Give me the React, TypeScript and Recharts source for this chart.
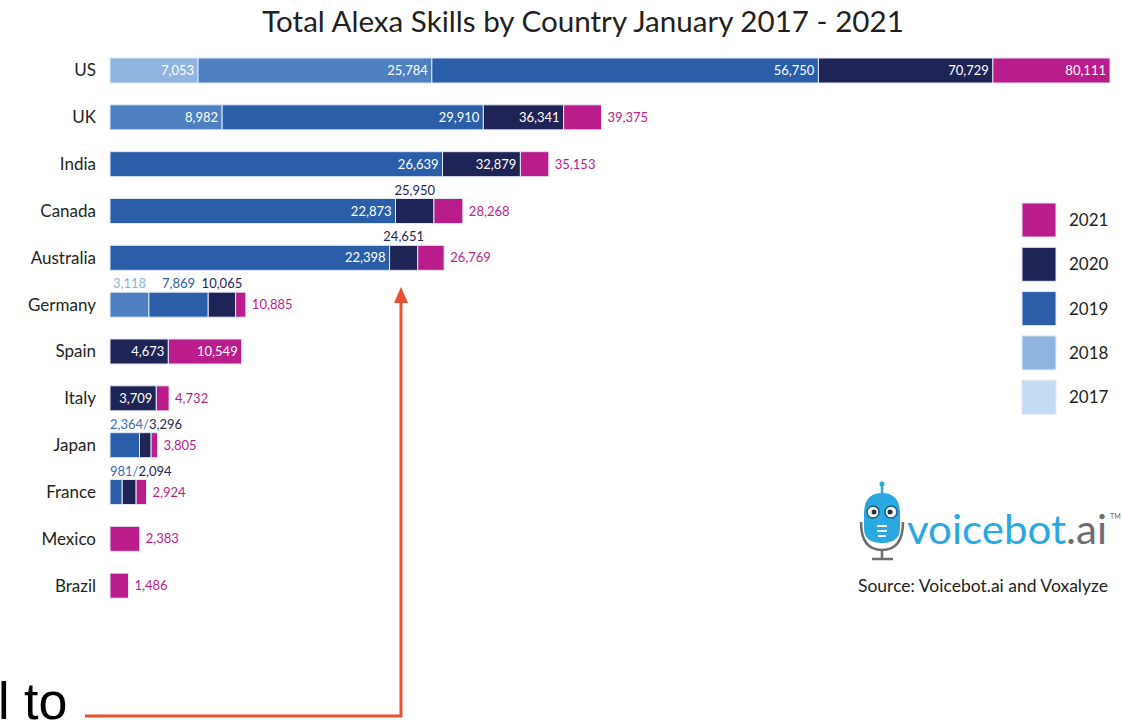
import { BarChart, Bar, XAxis, YAxis, LabelList } from 'recharts';

// cumulative skill counts (January of each year), null = market not live yet
const countries = ['US', 'UK', 'India', 'Canada', 'Australia', 'Germany', 'Spain', 'Italy', 'Japan', 'France', 'Mexico', 'Brazil'];
const skills2017 = [7053, null, null, null, null, null, null, null, null, null, null, null];
const skills2018 = [25784, 8982, null, null, null, 3118, null, null, null, null, null, null];
const skills2019 = [56750, 29910, 26639, 22873, 22398, 7869, null, null, 2364, 981, null, null];
const skills2020 = [70729, 36341, 32879, 25950, 24651, 10065, 4673, 3709, 3296, 2094, null, null];
const skills2021 = [80111, 39375, 35153, 28268, 26769, 10885, 10549, 4732, 3805, 2924, 2383, 1486];

const years = ['2017', '2018', '2019', '2020', '2021'];
const barColors = ['#8fb4e0', '#4d7fc1', '#2a5ea9', '#1f2457', '#bb1c8c'];
const legendColors = ['#c5dbf2', '#8fb4e0', '#2a5ea9', '#1f2457', '#bb1c8c'];

const series = [skills2017, skills2018, skills2019, skills2020, skills2021];

const rows = countries.map((country, i) => {
  const row: any = { country };
  let prev = 0;
  years.forEach((yr, k) => {
    const c = series[k][i];
    row['seg' + yr] = c == null ? 0 : c - prev;
    row['cum' + yr] = c;
    if (c != null) prev = c;
  });
  return row;
});

const fmt = (v: number) => v.toLocaleString('en-US');
const FONT = 'Lato, "Open Sans", sans-serif';
const MAGENTA = '#bb1c8c';
const NAVY = '#1f2457';

function labelMode(country: string, yr: string) {
  if (yr === '2021') return country === 'US' || country === 'Spain' ? 'inside' : 'outside';
  if ((country === 'Canada' || country === 'Australia') && yr === '2020') return 'above';
  if (country === 'Germany') return 'above';
  if (country === 'Japan' || country === 'France') return yr === '2019' ? 'pair' : 'none';
  return 'inside';
}

const aboveColor: Record<string, string> = { '2018': '#8fb4e0', '2019': '#2a5ea9', '2020': NAVY };

// zero-width segments are skipped by the label list, so look the row up by value
const makeLabel = (yr: string) => (props: any) => {
  const { x, y, width, height, value } = props;
  if (value == null) return null;
  const row = rows.find((r) => r['cum' + yr] === Number(value));
  if (!row) return null;
  const cum = row['cum' + yr];
  const mode = labelMode(row.country, yr);
  const cy = y + height / 2;
  const base = { fontFamily: FONT, fontSize: 13 };
  if (mode === 'inside')
    return <text x={x + width - 4} y={cy} dy={4.5} textAnchor="end" fill="#fff" {...base}>{fmt(cum)}</text>;
  if (mode === 'outside')
    return <text x={x + width + 6} y={cy} dy={4.5} textAnchor="start" fill={MAGENTA} {...base}>{fmt(cum)}</text>;
  if (mode === 'above')
    return <text x={x + width / 2} y={y - 4} textAnchor="middle" fill={aboveColor[yr]} {...base}>{fmt(cum)}</text>;
  if (mode === 'pair')
    return (
      <text x={x} y={y - 4} textAnchor="start" {...base}>
        <tspan fill="#3b6cb5">{fmt(cum) + '/'}</tspan>
        <tspan fill={NAVY}>{fmt(row.cum2020)}</tspan>
      </text>
    );
  return null;
};

const CountryTick = (props: any) => {
  const { y, payload } = props;
  return (
    <text x={96} y={y} dy={6} textAnchor="end" fill="#231f20" fontFamily={FONT} fontSize={17}>
      {payload.value}
    </text>
  );
};

export default function App() {
  return (
    <div style={{ position: 'absolute', left: 0, top: 0, width: 1122, height: 721, overflow: 'hidden', background: '#fff' }}>
      <BarChart
        width={1122}
        height={721}
        data={rows}
        layout="vertical"
        margin={{ top: 47, right: 12, bottom: 112, left: 10 }}
      >
        <XAxis type="number" domain={[0, 80111]} hide />
        <YAxis type="category" dataKey="country" width={100} axisLine={false} tickLine={false} tick={<CountryTick />} interval={0} />
        {years.map((yr, k) => (
          <Bar
            key={yr}
            dataKey={'seg' + yr}
            stackId="a"
            fill={barColors[k]}
            stroke="#e1e8f3"
            strokeWidth={1}
            barSize={25}
            isAnimationActive={false}
          >
            <LabelList dataKey={'cum' + yr} content={makeLabel(yr)} />
          </Bar>
        ))}
      </BarChart>

      <svg width={1122} height={721} style={{ position: 'absolute', left: 0, top: 0, pointerEvents: 'none' }}>
        <text x={583} y={32} textAnchor="middle" fill="#231f20" fontFamily={FONT} fontSize={29.6}>
          Total Alexa Skills by Country January 2017 - 2021
        </text>

        {years.slice().reverse().map((yr, i) => {
          const k = years.length - 1 - i;
          const cy = 220 + i * 44.3;
          return (
            <g key={yr}>
              <rect x={1022} y={cy - 17} width={34} height={34} fill={legendColors[k]} stroke="#e1e8f3" />
              <text x={1069} y={cy + 6} fill="#231f20" fontFamily={FONT} fontSize={17}>{yr}</text>
            </g>
          );
        })}

        {/* voicebot.ai logo */}
        <g>
          <line x1={882} y1={484} x2={882} y2={494} stroke="#29a9e0" strokeWidth={2.5} />
          <circle cx={882} cy={484} r={2.5} fill="#29a9e0" />
          <path d="M864 514 Q864 493 882 493 Q900 493 900 514 L900 528 Q900 543 882 543 Q864 543 864 528 Z" fill="#29a9e0" />
          <circle cx={873} cy={512} r={6} fill="#fff" stroke="#1d5f86" strokeWidth={1.5} />
          <circle cx={891} cy={512} r={6} fill="#fff" stroke="#1d5f86" strokeWidth={1.5} />
          <circle cx={874} cy={512} r={2.5} fill="#1d3446" />
          <circle cx={890} cy={512} r={2.5} fill="#1d3446" />
          <line x1={877} y1={526} x2={887} y2={526} stroke="#fff" strokeWidth={2} />
          <line x1={877} y1={531} x2={887} y2={531} stroke="#fff" strokeWidth={2} />
          <line x1={878} y1={536} x2={886} y2={536} stroke="#fff" strokeWidth={2} />
          <path d="M861 522 Q861 550 882 550 Q903 550 903 522" fill="none" stroke="#6d6e71" strokeWidth={2.5} />
          <line x1={882} y1={550} x2={882} y2={559} stroke="#6d6e71" strokeWidth={2.5} />
          <line x1={872} y1={559} x2={893} y2={559} stroke="#6d6e71" strokeWidth={2.5} />
          <text x={907} y={544} fontFamily={FONT} fontSize={40} textLength={200} lengthAdjust="spacingAndGlyphs">
            <tspan fill="#29a9e0">voicebot</tspan>
            <tspan fill="#6d6e71">.ai</tspan>
          </text>
          <text x={1110} y={519} fontFamily={FONT} fontSize={7} fill="#6d6e71">TM</text>
        </g>
        <text x={858} y={592} fill="#231f20" fontFamily={FONT} fontSize={16.5} textLength={250} lengthAdjust="spacingAndGlyphs">
          Source: Voicebot.ai and Voxalyze
        </text>

        {/* annotation */}
        <polyline points="85,716 401,716 401,300" fill="none" stroke="#e8502f" strokeWidth={3} />
        <polygon points="401,287 394,303 408,303" fill="#e8502f" />
        <text x={-2} y={719} fill="#000" fontFamily='"Liberation Sans", Arial, sans-serif' fontSize={52}>l to</text>
      </svg>
    </div>
  );
}
